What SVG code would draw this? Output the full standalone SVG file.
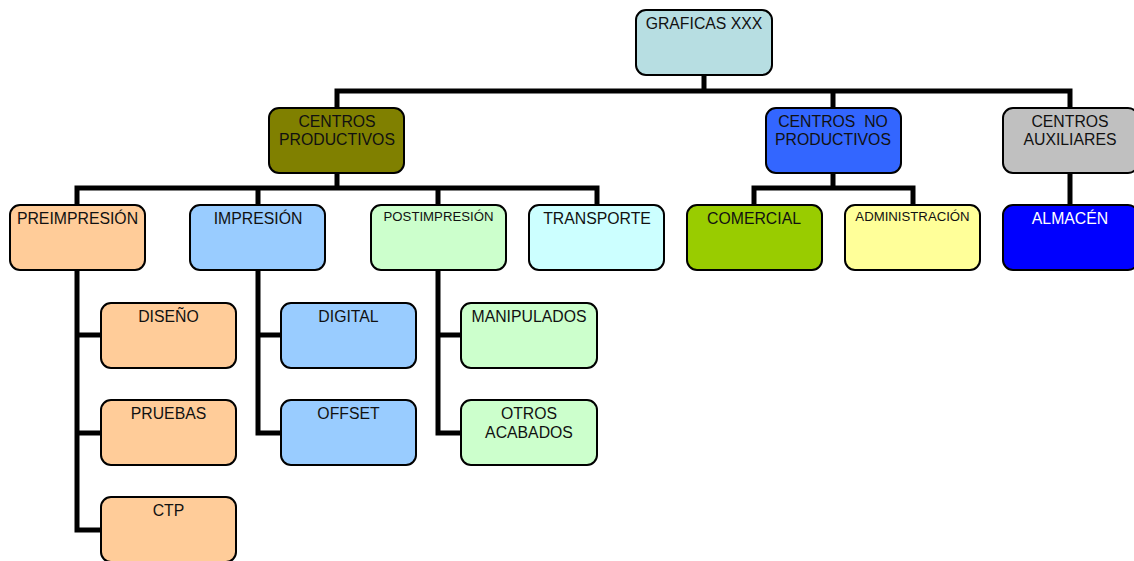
<svg xmlns="http://www.w3.org/2000/svg" width="1134" height="561" viewBox="0 0 1134 561">
<style>
.box{stroke:#000;stroke-width:2}
.t{font-family:"Liberation Sans",Arial,sans-serif;font-size:15.8px;fill:#111;text-anchor:middle}
.s{font-size:13.2px}
.w{fill:#fff}
.c{fill:none;stroke:#000;stroke-width:5;stroke-linejoin:miter;stroke-linecap:butt}
</style>
<rect width="1134" height="561" fill="#fff"/>
<g id="connectors">
<path class="c" d="M704 75V91M337 108V91H1070V108M833 91V108"/>
<path class="c" d="M337 173V188M77 205V188H597V205M258 188V205M438 188V205"/>
<path class="c" d="M833 173V188M754 205V188H913V205"/>
<path class="c" d="M1070 173V205"/>
<path class="c" d="M77 270V530H101M77 335H101M77 433H101"/>
<path class="c" d="M258 270V433H281M258 335H281"/>
<path class="c" d="M438 270V433H461M438 335H461"/>
</g>
<g id="graficas"><rect class="box" x="636" y="10" width="136" height="65" rx="10" fill="#B7DEE2"/><text class="t" x="704" y="29">GRAFICAS XXX</text></g>
<g id="productivos"><rect class="box" x="269" y="108" width="135" height="65" rx="10" fill="#808000"/><text class="t" x="337" y="127">CENTROS</text><text class="t" x="337" y="145">PRODUCTIVOS</text></g>
<g id="noproductivos"><rect class="box" x="766" y="108" width="135" height="65" rx="10" fill="#3366FF"/><text class="t" x="833" y="127">CENTROS&#160; NO</text><text class="t" x="833" y="145">PRODUCTIVOS</text></g>
<g id="auxiliares"><rect class="box" x="1003" y="108" width="135" height="65" rx="10" fill="#C0C0C0"/><text class="t" x="1070" y="127">CENTROS</text><text class="t" x="1070" y="145">AUXILIARES</text></g>
<g id="preimpresion"><rect class="box" x="10" y="205" width="135" height="65" rx="10" fill="#FFCC99"/><text class="t" x="77.5" y="224">PREIMPRESIÓN</text></g>
<g id="impresion"><rect class="box" x="190" y="205" width="135" height="65" rx="10" fill="#99CCFF"/><text class="t" x="258" y="224">IMPRESIÓN</text></g>
<g id="postimpresion"><rect class="box" x="371" y="205" width="135" height="65" rx="10" fill="#CCFFCC"/><text class="t s" x="438.5" y="221">POSTIMPRESIÓN</text></g>
<g id="transporte"><rect class="box" x="529" y="205" width="135" height="65" rx="10" fill="#CCFFFF"/><text class="t" x="597" y="224">TRANSPORTE</text></g>
<g id="comercial"><rect class="box" x="687" y="205" width="135" height="65" rx="10" fill="#99CC00"/><text class="t" x="754" y="224">COMERCIAL</text></g>
<g id="administracion"><rect class="box" x="845" y="205" width="135" height="65" rx="10" fill="#FFFF99"/><text class="t s" x="912.5" y="221">ADMINISTRACIÓN</text></g>
<g id="almacen"><rect class="box" x="1003" y="205" width="135" height="65" rx="10" fill="#0000FF"/><text class="t w" x="1070" y="224">ALMACÉN</text></g>
<g id="diseno"><rect class="box" x="101" y="303" width="135" height="65" rx="10" fill="#FFCC99"/><text class="t" x="168.5" y="322">DISEÑO</text></g>
<g id="pruebas"><rect class="box" x="101" y="400" width="135" height="65" rx="10" fill="#FFCC99"/><text class="t" x="168.5" y="419">PRUEBAS</text></g>
<g id="ctp"><rect class="box" x="101" y="497" width="135" height="65" rx="10" fill="#FFCC99"/><text class="t" x="168.5" y="516">CTP</text></g>
<g id="digital"><rect class="box" x="281" y="303" width="135" height="65" rx="10" fill="#99CCFF"/><text class="t" x="348.5" y="322">DIGITAL</text></g>
<g id="offset"><rect class="box" x="281" y="400" width="135" height="65" rx="10" fill="#99CCFF"/><text class="t" x="348.5" y="419">OFFSET</text></g>
<g id="manipulados"><rect class="box" x="461" y="303" width="136" height="65" rx="10" fill="#CCFFCC"/><text class="t" x="529" y="322">MANIPULADOS</text></g>
<g id="otros"><rect class="box" x="461" y="400" width="136" height="65" rx="10" fill="#CCFFCC"/><text class="t" x="529" y="419">OTROS</text><text class="t" x="529" y="438">ACABADOS</text></g>
</svg>
